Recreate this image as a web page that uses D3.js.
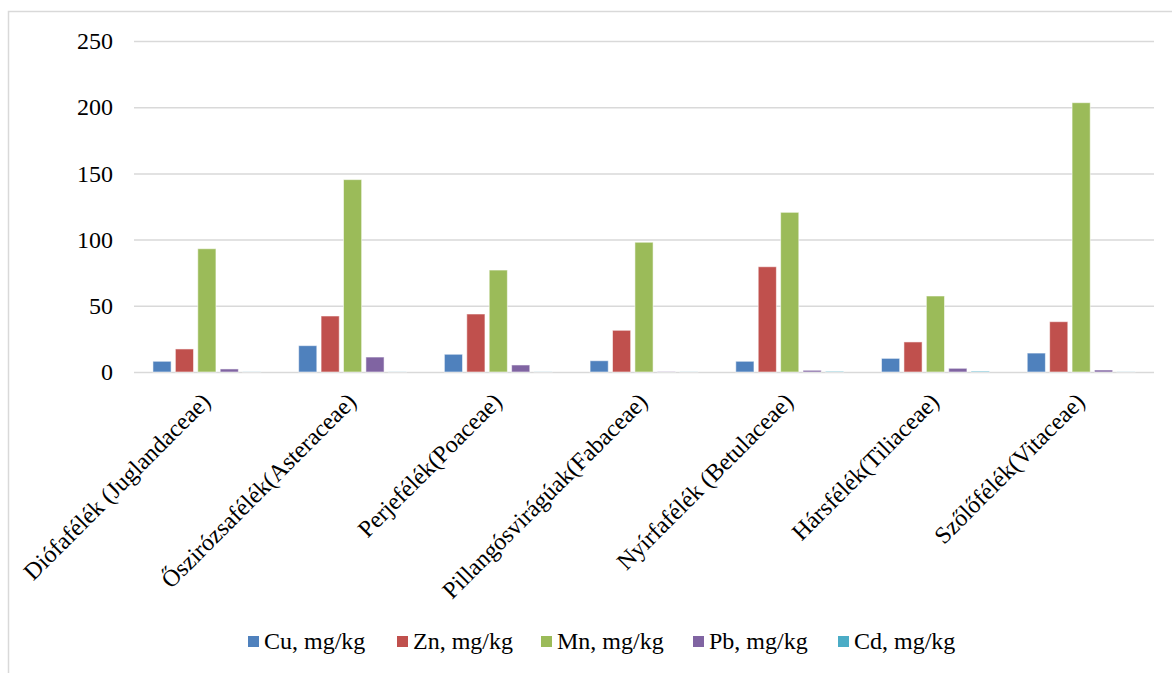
<!DOCTYPE html>
<html>
<head>
<meta charset="utf-8">
<script src="https://cdn.jsdelivr.net/npm/d3@7"></script>
<style>
  html, body { margin: 0; padding: 0; background: #fff; }
  svg { display: block; }
  text { font-family: "Liberation Serif", "Times New Roman", serif; fill: #000; }
</style>
</head>
<body>
<script>
const categories = [
  "Diófafélék (Juglandaceae)",
  "Őszirózsafélék(Asteraceae)",
  "Perjefélék(Poaceae)",
  "Pillangósvirágúak(Fabaceae)",
  "Nyírfafélék (Betulaceae)",
  "Hársfélék(Tiliaceae)",
  "Szőlőfélék(Vitaceae)"
];
const seriesNames = ["Cu, mg/kg", "Zn, mg/kg", "Mn, mg/kg", "Pb, mg/kg", "Cd, mg/kg"];
const seriesColors = ["#4F81BD", "#C0504D", "#9BBB59", "#8064A2", "#4BACC6"];
const cu = [8.1, 19.9, 13.4, 8.5, 8.1, 10.3, 14.3];
const zn = [17.4, 42.3, 43.8, 31.5, 79.5, 22.7, 38.0];
const mn = [93.1, 145.3, 77.0, 98.0, 120.6, 57.4, 203.4];
const pb = [2.3, 11.3, 5.3, 0.2, 1.3, 2.8, 1.5];
const cd = [0.1, 0.1, 0.1, 0.1, 0.5, 0.7, 0.1];
const yTicks = [0, 50, 100, 150, 200, 250];

const seriesValues = [cu, zn, mn, pb, cd];

const W = 1172, H = 673;
const plotLeft = 134, plotRight = 1154, plotTop = 41, plotBottom = 372;
const FONT = '"Liberation Serif", "Times New Roman", serif';

const svg = d3.select("body").append("svg").attr("width", W).attr("height", H);

// outer chart border
svg.append("rect")
  .attr("x", 8.5).attr("y", 11.5).attr("width", 1200).attr("height", 700)
  .attr("fill", "none").attr("stroke", "#d9d9d9").attr("stroke-width", 1.5);

const y = d3.scaleLinear().domain([0, 250]).range([plotBottom, plotTop]);
const x0 = d3.scaleBand().domain(categories).range([plotLeft, plotRight])
  .paddingInner(0.26).paddingOuter(0.13);
const x1 = d3.scaleBand().domain(seriesNames).range([0, x0.bandwidth()])
  .paddingInner(0.19).paddingOuter(0);

// gridlines
const yAxis = d3.axisLeft(y).tickValues(yTicks).tickSize(-(plotRight - plotLeft)).tickPadding(21);
const gY = svg.append("g").attr("transform", `translate(${plotLeft},0)`).call(yAxis);
gY.select(".domain").remove();
gY.selectAll(".tick line").attr("stroke", "#d9d9d9").attr("stroke-width", 1.5);
gY.selectAll(".tick text").style("font-size", "24px").style("font-family", FONT).attr("fill", "#000");

// bars
const groups = svg.append("g").selectAll("g").data(categories).join("g")
  .attr("transform", d => `translate(${x0(d)},0)`);
groups.selectAll("rect")
  .data((c, ci) => seriesNames.map((s, si) => ({ s, si, v: seriesValues[si][ci] })))
  .join("rect")
  .attr("x", d => x1(d.s))
  .attr("width", x1.bandwidth())
  .attr("y", d => y(d.v))
  .attr("height", d => plotBottom - y(d.v))
  .attr("fill", d => seriesColors[d.si])
  .attr("stroke", "rgba(255,255,255,0.55)")
  .attr("stroke-width", 1);

// x axis labels
const xAxis = d3.axisBottom(x0).tickSize(0).tickPadding(0);
const gX = svg.append("g").attr("transform", `translate(0,${plotBottom})`).call(xAxis);
gX.select(".domain").remove();
gX.selectAll(".tick text")
  .style("font-size", "24px").style("font-family", FONT)
  .attr("fill", "#000")
  .attr("text-anchor", "end")
  .attr("dy", 0)
  .attr("y", 0)
  .attr("transform", "translate(5,31) rotate(-45)");

// legend
const legendX = [248, 397, 541, 693, 838];
const lg = svg.append("g").selectAll("g").data(seriesNames).join("g")
  .attr("transform", (d, i) => `translate(${legendX[i]},641)`);
lg.append("rect").attr("x", 0).attr("y", -5).attr("width", 11).attr("height", 11)
  .attr("fill", (d, i) => seriesColors[i]);
lg.append("text").attr("x", 16).attr("y", 8).style("font-size", "24px").style("font-family", FONT).text(d => d);
</script>
</body>
</html>
